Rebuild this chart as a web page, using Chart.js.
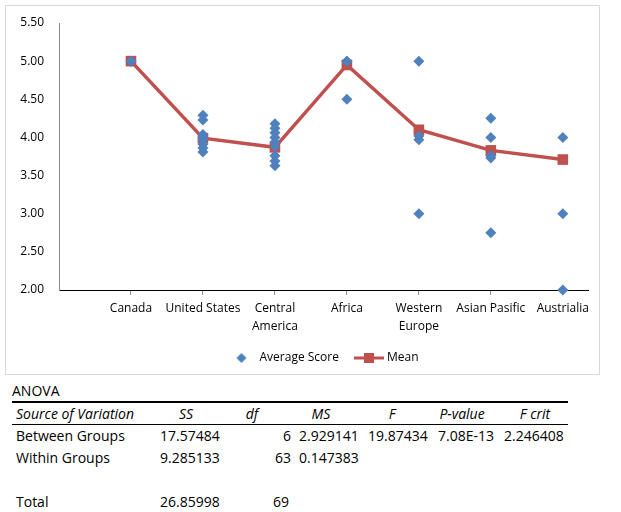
<!DOCTYPE html>
<html lang="en">
<head>
<meta charset="UTF-8">
<title>Average Score by Region</title>
<script src="https://cdn.jsdelivr.net/npm/chart.js"></script>
<style>
  body { margin: 0; background: #fff; font-family: "Open Sans", "Liberation Sans", sans-serif; }
  #chartBox { position: absolute; left: 5px; top: 5px; width: 595px; height: 370px; border: 1px solid #d9d9d9; box-sizing: border-box; }
  .cell { position: absolute; white-space: nowrap; font-size: 14px; line-height: 16px; color: #000; }
  .hline { position: absolute; left: 12px; width: 556px; background: #000; }
</style>
</head>
<body>
<div id="chartBox"><canvas id="scoreChart" width="593" height="368"></canvas></div>
<div id="anova"></div>
<script>
  // chart data
  const categories = ['Canada', 'United States', ['Central', 'America'], 'Africa', ['Western', 'Europe'], 'Asian Pasific', 'Austrialia'];
  const canada = [5.0, 5.0];
  const unitedStates = [4.29, 4.23, 4.04, 4.0, 3.97, 3.91, 3.86, 3.81];
  const centralAmerica = [4.18, 4.12, 4.06, 4.0, 3.94, 3.88, 3.76, 3.69, 3.63];
  const africa = [5.0, 5.0, 4.5];
  const westernEurope = [5.0, 4.02, 3.97, 3.0];
  const asianPacific = [4.25, 4.0, 3.76, 3.73, 2.75];
  const australia = [4.0, 3.0, 2.0];
  const means = [5.0, 3.99, 3.87, 4.95, 4.1, 3.83, 3.71];
  const yTicks = [2.0, 2.5, 3.0, 3.5, 4.0, 4.5, 5.0, 5.5];

  // anova table
  const anovaHeaders = ['Source of Variation', 'SS', 'df', 'MS', 'F', 'P-value', 'F crit'];
  const rowLabels = ['Between Groups', 'Within Groups', '', 'Total'];
  const ssValues = ['17.57484', '9.285133', '', '26.85998'];
  const dfValues = ['6', '63', '', '69'];
  const msValues = ['2.929141', '0.147383', '', ''];
  const fValues = ['19.87434', '', '', ''];
  const pValues = ['7.08E-13', '', '', ''];
  const fCritValues = ['2.246408', '', '', ''];

  const groups = [canada, unitedStates, centralAmerica, africa, westernEurope, asianPacific, australia];
  const scorePoints = [];
  groups.forEach((g, i) => g.forEach(v => scorePoints.push({ x: i + 1, y: v })));
  const meanPoints = means.map((v, i) => ({ x: i + 1, y: v }));

  const blue = '#4F81BD';
  const red = '#C0504D';

  // legend symbols
  function diamondIcon() {
    const c = document.createElement('canvas');
    c.width = 12; c.height = 12;
    const g = c.getContext('2d');
    g.fillStyle = blue;
    g.beginPath();
    g.moveTo(6, 1); g.lineTo(11, 6); g.lineTo(6, 11); g.lineTo(1, 6);
    g.closePath(); g.fill();
    return c;
  }
  function meanIcon() {
    const c = document.createElement('canvas');
    c.width = 30; c.height = 12;
    const g = c.getContext('2d');
    g.fillStyle = red;
    g.fillRect(0, 4.5, 30, 3);
    g.fillRect(10, 1, 10, 10);
    return c;
  }
  const icons = [diamondIcon(), meanIcon()];

  // Excel puts the legend a bit right of centre
  const shiftLegend = {
    id: 'shiftLegend',
    afterLayout(chart) {
      chart.legend.left += 27;
      chart.legend.right += 27;
    }
  };

  const font = { family: '"Open Sans", "Liberation Sans", sans-serif', size: 12 };

  new Chart(document.getElementById('scoreChart'), {
    type: 'scatter',
    data: {
      datasets: [{
        label: 'Average Score',
        data: scorePoints,
        pointStyle: 'rectRot',
        pointRadius: 5.5,
        pointHoverRadius: 5.5,
        backgroundColor: blue,
        borderColor: blue,
        borderWidth: 0,
        clip: false
      }, {
        label: 'Mean',
        data: meanPoints,
        showLine: true,
        borderColor: red,
        borderWidth: 3.5,
        pointStyle: 'rect',
        pointRadius: 7.5,
        pointHoverRadius: 7.5,
        pointBackgroundColor: red,
        pointBorderWidth: 0,
        backgroundColor: red,
        clip: false
      }]
    },
    options: {
      responsive: false,
      animation: false,
      layout: { padding: { top: 17, right: 11, left: 0, bottom: 0 } },
      plugins: {
        tooltip: { enabled: false },
        legend: {
          position: 'bottom',
          labels: {
            usePointStyle: true,
            pointStyleWidth: 24,
            padding: 18,
            color: '#000',
            font: font,
            generateLabels(chart) {
              return chart.data.datasets.map((ds, i) => ({
                text: ds.label,
                pointStyle: icons[i],
                fillStyle: ds.backgroundColor,
                strokeStyle: ds.backgroundColor,
                lineWidth: 0,
                fontColor: '#000',
                datasetIndex: i
              }));
            }
          }
        }
      },
      scales: {
        x: {
          type: 'linear',
          min: 0,
          max: 7.35,
          afterBuildTicks(scale) {
            scale.ticks = categories.map((c, i) => ({ value: i + 1 }));
          },
          afterFit(scale) { scale.height = 44; },
          ticks: {
            autoSkip: false,
            maxRotation: 0,
            padding: 5,
            color: '#000',
            font: Object.assign({ lineHeight: 1.5 }, font),
            callback: (v) => categories[v - 1]
          },
          grid: { drawOnChartArea: false, drawTicks: true, tickLength: 5, color: '#888' },
          border: { color: '#000', width: 1 }
        },
        y: {
          min: 2,
          max: 5.5,
          afterBuildTicks(scale) {
            scale.ticks = yTicks.map(v => ({ value: v }));
          },
          afterFit(scale) { scale.width = 53; },
          ticks: {
            padding: 7,
            color: '#000',
            font: font,
            callback: (v) => Number(v).toFixed(2)
          },
          grid: { display: false },
          border: { color: '#888', width: 1 }
        }
      }
    },
    plugins: [shiftLegend]
  });

  // ANOVA table below the chart
  const anova = document.getElementById('anova');
  function addCell(text, x, yc, align, italic) {
    if (text === '') return;
    const el = document.createElement('div');
    el.className = 'cell';
    el.textContent = text;
    el.style.top = (yc - 8) + 'px';
    if (align === 'right') {
      el.style.right = (621 - x) + 'px';
    } else if (align === 'center') {
      el.style.left = x + 'px';
      el.style.transform = 'translateX(-50%)';
    } else {
      el.style.left = x + 'px';
    }
    if (italic) el.style.fontStyle = 'italic';
    anova.appendChild(el);
  }
  function addLine(y, h) {
    const el = document.createElement('div');
    el.className = 'hline';
    el.style.top = y + 'px';
    el.style.height = h + 'px';
    anova.appendChild(el);
  }

  addCell('ANOVA', 12, 391, 'left', false);
  addLine(401, 2);
  const headerX = [16, 186, 252, 321, 392, 462, 535];
  anovaHeaders.forEach((h, i) => addCell(h, headerX[i], 414, i === 0 ? 'left' : 'center', true));
  addLine(424, 1);
  const rowY = [436, 458, 480, 502];
  rowLabels.forEach((label, r) => {
    const y = rowY[r];
    addCell(label, 16, y, 'left');
    addCell(ssValues[r], 160, y, 'left');
    addCell(dfValues[r], r === 3 ? 273 : 291, y, r === 3 ? 'left' : 'right');
    addCell(msValues[r], 299, y, 'left');
    addCell(fValues[r], 368, y, 'left');
    addCell(pValues[r], 438, y, 'left');
    addCell(fCritValues[r], 504, y, 'left');
  });
</script>
</body>
</html>
